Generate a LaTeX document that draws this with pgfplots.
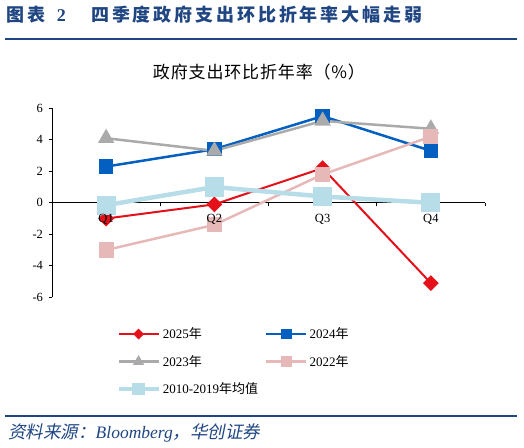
\documentclass[border=0pt]{standalone}
\usepackage{pgfplots}
\pgfplotsset{compat=1.18}
\usepackage{fontspec}
\setmainfont{Liberation Serif}
\newfontfamily\cjk{Noto Sans CJK SC}
\newfontfamily\cjkit[FakeSlant=0.2]{Noto Sans CJK SC}
\newfontfamily\cjkt[LetterSpace=16]{Noto Sans CJK SC}
\newfontfamily\cjkc[LetterSpace=5]{Noto Sans CJK SC}
\definecolor{titleblue}{RGB}{31,70,130}
\definecolor{cR}{RGB}{228,16,26}
\definecolor{cB}{RGB}{3,96,192}
\definecolor{cG}{RGB}{170,170,170}
\definecolor{cP}{RGB}{230,185,184}
\definecolor{cL}{RGB}{183,221,232}
\pgfdeclareplotmark{rdiamond}{%
  \pgfpathmoveto{\pgfqpoint{0pt}{\pgfplotmarksize}}%
  \pgfpathlineto{\pgfqpoint{\pgfplotmarksize}{0pt}}%
  \pgfpathlineto{\pgfqpoint{0pt}{-\pgfplotmarksize}}%
  \pgfpathlineto{\pgfqpoint{-\pgfplotmarksize}{0pt}}%
  \pgfpathclose\pgfusepathqfillstroke}
\begin{document}
\begin{tikzpicture}[x=1bp,y=1bp]
\useasboundingbox (0,0) rectangle (524,448);
\node[anchor=west,inner sep=0pt,text=titleblue,font={\fontsize{18bp}{20bp}\selectfont}] at (6,433) {{\cjkt\bfseries 图表}\hspace{9bp}\textbf{2}};
\node[anchor=west,inner sep=0pt,text=titleblue,font={\fontsize{18bp}{20bp}\selectfont}] at (91,433) {{\cjkt\bfseries 四季度政府支出环比折年率大幅走弱}};
\draw[titleblue,line width=1.8bp] (5,409) -- (517,409);
\node[inner sep=0pt,font={\fontsize{17bp}{19bp}\selectfont}] at (259,376) {\cjkc 政府支出环比折年率（\%）};
\draw[titleblue,line width=1.4bp] (5,32) -- (517,32);
\node[anchor=west,inner sep=0pt,text=titleblue,font={\fontsize{17.5bp}{19bp}\selectfont}] at (8,15) {{\cjkit 资料来源：}\textit{Bloomberg}{\cjkit ，华创证券}};
\begin{axis}[
  at={(52bp,150.7bp)}, anchor=south west,
  scale only axis, width=433bp, height=189bp,
  xmin=0.5, xmax=4.5, ymin=-6, ymax=6,
  axis x line*=middle, axis y line*=left,
  axis line style={black, line width=0.8bp},
  tick align=outside,
  major tick length=3.5bp,
  tick style={black, line width=0.8bp},
  ytick={-6,-4,...,6},
  xtick={0.5,1.5,2.5,3.5,4.5}, xticklabels={},
  /pgf/number format/assume math mode=true,
  ticklabel style={font={\fontsize{12.5bp}{14bp}\selectfont}},
  yticklabel style={xshift=-2bp},
  clip=false,
  legend columns=2,
  legend cell align=left,
  legend style={at={(0.148,-0.15)}, anchor=north west, draw=none, fill=none, inner sep=0pt,
    font={\fontsize{13bp}{15bp}\selectfont}, row sep=11bp,
    /tikz/every odd column/.append style={column sep=0bp},
    /tikz/every even column/.append style={column sep=5bp}},
  legend image code/.code={\draw[mark repeat=2,mark phase=2,mark size=4bp] plot coordinates {(0bp,0bp)(20bp,0bp)(40bp,0bp)};},
]
\addplot[cR, line width=2bp, mark=rdiamond, mark size=6.5bp] coordinates {(1,-1.0) (2,-0.1) (3,2.2) (4,-5.1)};
\addlegendentry{2025{\cjk 年}}
\addplot[cB, line width=2.5bp, mark=square*, mark size=6bp] coordinates {(1,2.3) (2,3.4) (3,5.5) (4,3.3)};
\addlegendentry{2024{\cjk 年}}
\addplot[cG, line width=2.5bp, mark=triangle*, mark size=7bp] coordinates {(1,4.1) (2,3.3) (3,5.2) (4,4.7)};
\addlegendentry{2023{\cjk 年}}
\addplot[cP, line width=2.5bp, mark=square*, mark size=6.3bp] coordinates {(1,-3.0) (2,-1.4) (3,1.8) (4,4.2)};
\addlegendentry{2022{\cjk 年}}
\addplot[cL, line width=4.5bp, mark=square*, mark size=7.3bp] coordinates {(1,-0.15) (2,1.0) (3,0.4) (4,0.0)};
\addlegendentry{2010-2019{\cjk 年均值}}
\coordinate (q1) at (axis cs:1,0);
\coordinate (q2) at (axis cs:2,0);
\coordinate (q3) at (axis cs:3,0);
\coordinate (q4) at (axis cs:4,0);
\end{axis}
\path[font={\fontsize{12.5bp}{14bp}\selectfont}]
  (q1) node[yshift=-17bp,inner sep=0pt] {Q1}
  (q2) node[yshift=-17bp,inner sep=0pt] {Q2}
  (q3) node[yshift=-17bp,inner sep=0pt] {Q3}
  (q4) node[yshift=-17bp,inner sep=0pt] {Q4};
\end{tikzpicture}
\end{document}
